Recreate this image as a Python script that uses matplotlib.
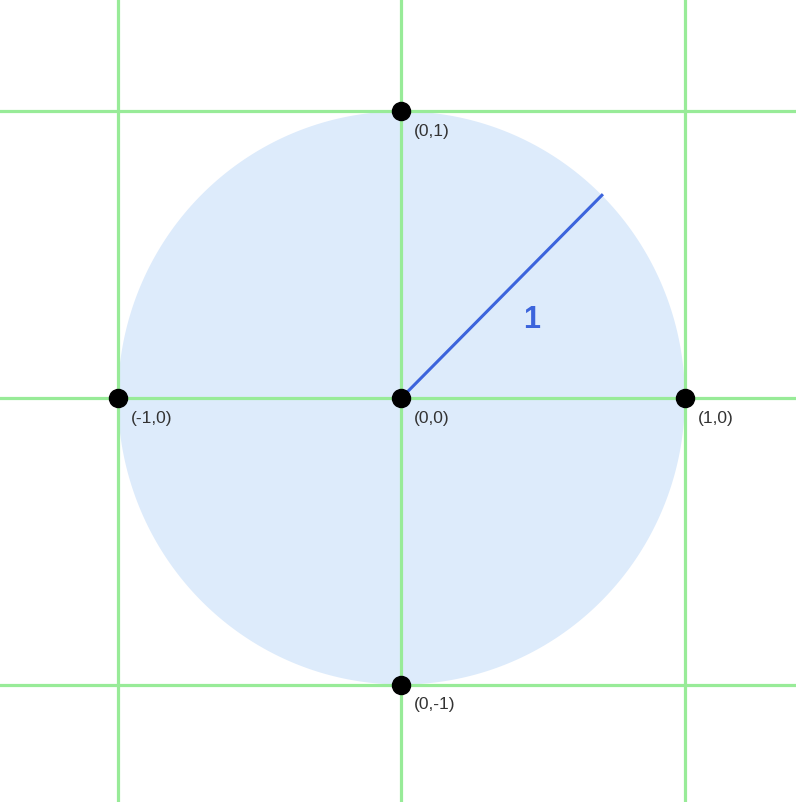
import matplotlib.pyplot as plt
import numpy as np

plt.rcParams['font.family'] = ['Liberation Sans', 'DejaVu Sans']

# unit circle data
radius = 1.0
angle_deg = 45
points_x = [0, 1, 0, -1, 0]
points_y = [1, 0, 0, 0, -1]
point_labels = ['(0,1)', '(1,0)', '(0,0)', '(-1,0)', '(0,-1)']
grid_vals = [-1, 0, 1]

fig = plt.figure(figsize=(7.96, 8.03), dpi=100)
ax = fig.add_axes([0, 0, 1, 1])
ax.set_xlim(-1.416, 1.392)
ax.set_ylim(-1.410, 1.392)
ax.axis('off')

# filled circle
t = np.linspace(0, 2 * np.pi, 400)
ax.fill(radius * np.cos(t), radius * np.sin(t), color='#ddebfb', lw=0, zorder=1)

# green grid
for g in grid_vals:
    ax.axvline(g, color='#98eb98', lw=2.3, zorder=2)
    ax.axhline(g, color='#98eb98', lw=2.3, zorder=2)

# radius line
a = np.radians(angle_deg)
ax.plot([0, radius * np.cos(a)], [0, radius * np.sin(a)], color='#3c64dc', lw=2.2, zorder=3)
ax.text(0.46, 0.275, '1', color='#3c64dc', fontsize=22, fontweight='bold',
        ha='center', va='center', zorder=4)

# points
ax.plot(points_x, points_y, 'o', color='black', markersize=13, zorder=5)
for x, y, lab in zip(points_x, points_y, point_labels):
    ax.annotate(lab, (x, y), xytext=(9, -14), textcoords='offset points',
                ha='left', va='center', fontsize=12.5, color='#333333', zorder=6)

plt.savefig('out.png', dpi=100)
